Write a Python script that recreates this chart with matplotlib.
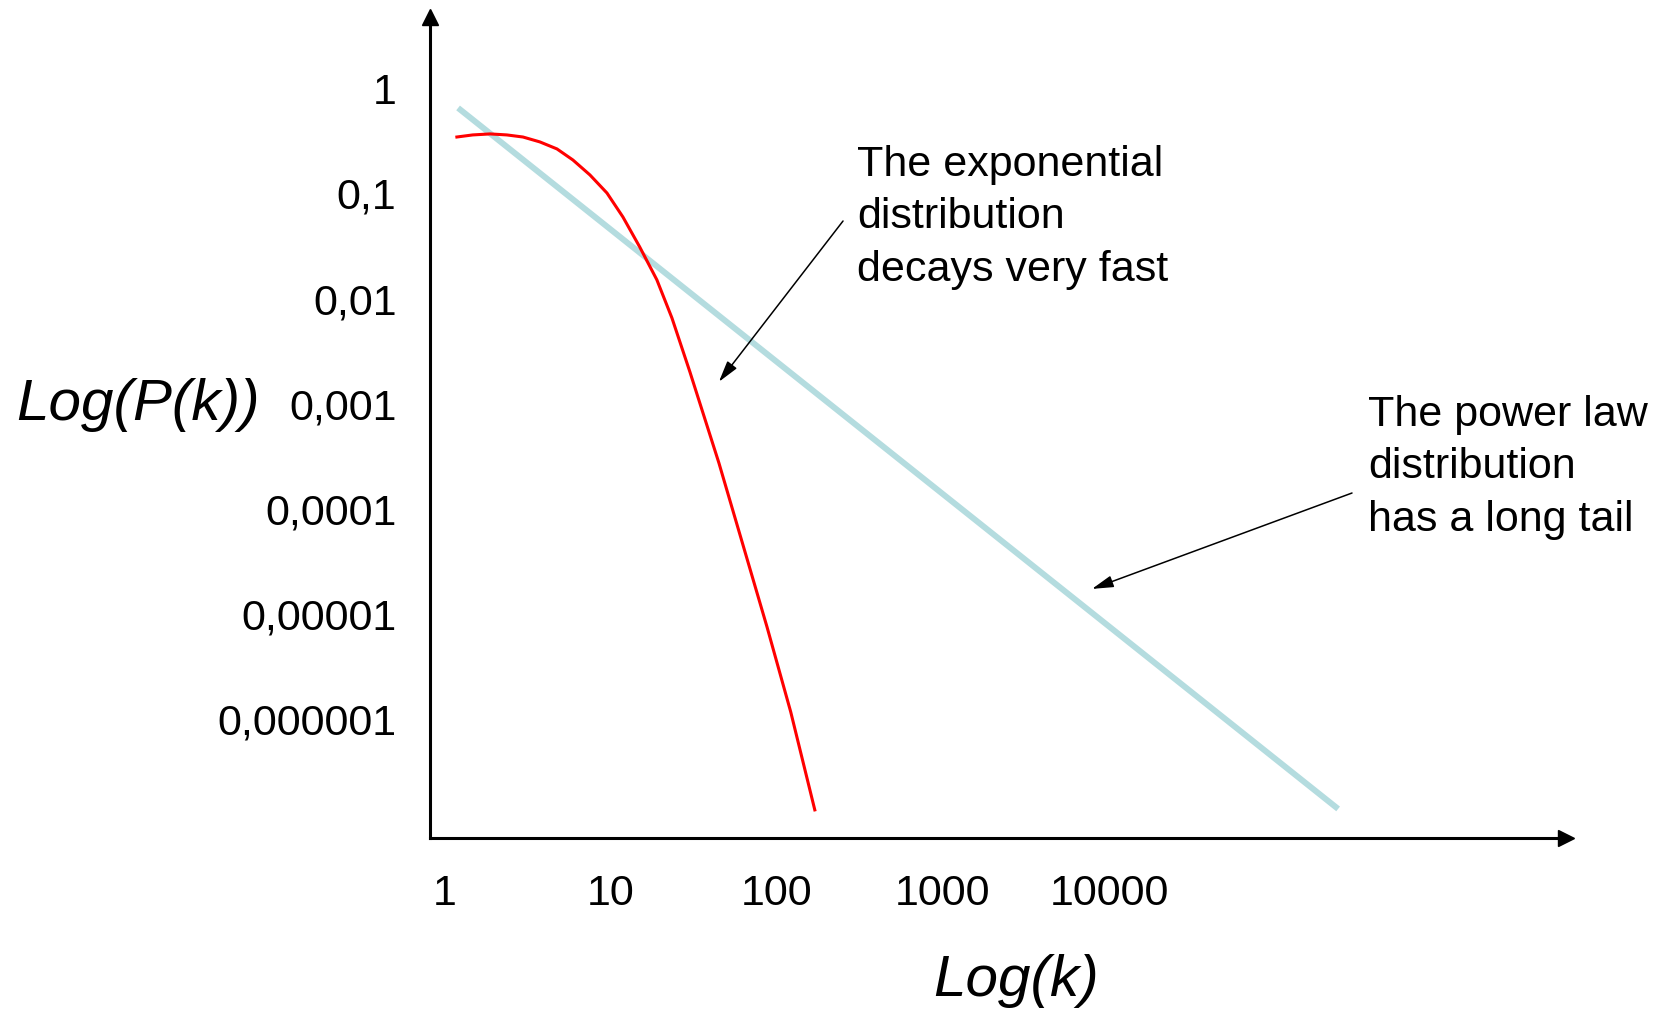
import matplotlib
matplotlib.use("Agg")
import matplotlib.pyplot as plt
from matplotlib.ticker import NullLocator

plt.rcParams['font.family'] = ['Liberation Sans', 'DejaVu Sans']

# Exponential distribution (red curve)
exp_k = [1.18, 1.47, 1.87, 2.36, 2.95, 3.73, 4.73, 5.90, 7.47, 9.46, 11.8, 14.9,
         18.9, 23.3, 29.9, 44.7, 62.4, 87.1, 121, 169]
exp_p = [0.344, 0.360, 0.368, 0.360, 0.344, 0.309, 0.265, 0.208, 0.150, 0.101,
         0.0598, 0.0310, 0.0151, 0.00655, 0.00201, 2.74e-4, 4.56e-5, 7.57e-6,
         1.18e-6, 1.38e-7]

# Power law distribution (light blue straight line)
pow_k = [1.20, 2.4e5]
pow_p = [0.65, 1.41e-7]

# Tick values and labels
x_ticks = [1, 10, 100, 1000, 10000]
x_tick_labels = ["1", "10", "100", "1000", "10000"]
y_ticks = [1, 0.1, 0.01, 0.001, 0.0001, 0.00001, 0.000001]
y_tick_labels = ["1", "0,1", "0,01", "0,001", "0,0001", "0,00001", "0,000001"]

exp_text = "The exponential\ndistribution\ndecays very fast"
pow_text = "The power law\ndistribution\nhas a long tail"

fig = plt.figure(figsize=(16.69, 10.14), dpi=100)
ax = fig.add_axes([0.2576, 0.1736, 0.6807, 0.8097])

ax.set_xscale('log')
ax.set_yscale('log')
ax.set_xlim(10 ** -0.0904, 10 ** 6.753)
ax.set_ylim(10 ** -7.127, 10 ** 0.678)

# The two distributions
ax.plot(pow_k, pow_p, color='#b4dcdf', linewidth=4.3, solid_capstyle='butt')
ax.plot(exp_k, exp_p, color='#ff0000', linewidth=2.2, solid_joinstyle='round')

# Axes as arrows
ax.spines['top'].set_visible(False)
ax.spines['right'].set_visible(False)
ax.spines['left'].set_linewidth(2.2)
ax.spines['bottom'].set_linewidth(2.2)
ax.plot(1, 0, '>k', markersize=11, transform=ax.transAxes, clip_on=False)
ax.plot(0, 1, '^k', markersize=11, transform=ax.transAxes, clip_on=False)

# Ticks: labels only
ax.set_xticks(x_ticks)
ax.set_xticklabels(x_tick_labels)
ax.set_yticks(y_ticks)
ax.set_yticklabels(y_tick_labels)
ax.xaxis.set_minor_locator(NullLocator())
ax.yaxis.set_minor_locator(NullLocator())
ax.tick_params(axis='x', length=0, pad=26, labelsize=31)
ax.tick_params(axis='y', length=0, pad=24, labelsize=31)

# Annotations
ax.text(303, 0.289, exp_text, fontsize=31, ha='left', va='top', linespacing=1.4)
ax.annotate('', xy=(44.7, 1.62e-3), xytext=(250, 0.0547),
            arrowprops=dict(arrowstyle='-|>,head_length=1.3,head_width=0.36',
                            color='black', lw=1.1, shrinkA=0, shrinkB=0))

ax.text(3.63e5, 1.22e-3, pow_text, fontsize=31, ha='left', va='top', linespacing=1.4)
ax.annotate('', xy=(7.9e3, 1.74e-5), xytext=(2.91e5, 1.42e-4),
            arrowprops=dict(arrowstyle='-|>,head_length=1.3,head_width=0.36',
                            color='black', lw=1.1, shrinkA=0, shrinkB=0))

# Axis titles
fig.text(0.0096, 0.601, "Log(P(k))", fontsize=42, style='italic', ha='left', va='center')
fig.text(0.6088, 0.0325, "Log(k)", fontsize=42, style='italic', ha='center', va='center')

fig.savefig("out.png", dpi=100, facecolor='white')
